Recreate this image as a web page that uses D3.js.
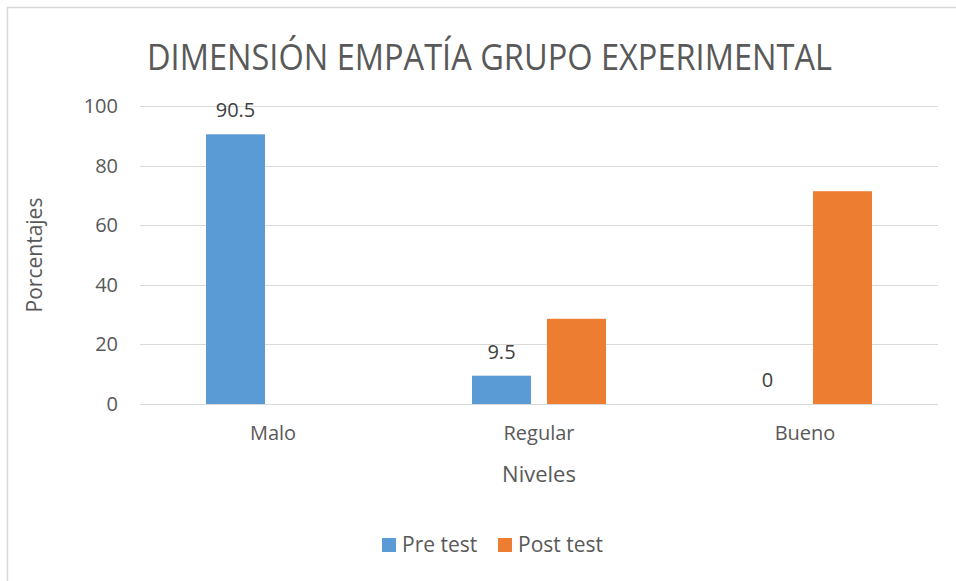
<!DOCTYPE html>
<html>
<head>
<meta charset="utf-8">
<script src="https://cdn.jsdelivr.net/npm/d3@7"></script>
<style>
  body { margin: 0; background: #fff; }
  text { font-family: "Open Sans", "Noto Sans", sans-serif; }
</style>
</head>
<body>
<svg id="chart" width="956" height="581"></svg>
<script>
const categories = ["Malo", "Regular", "Bueno"];
const series = ["Pre test", "Post test"];
const preTest = [90.5, 9.5, 0];
const postTest = [0, 28.6, 71.4];
const yTicks = [0, 20, 40, 60, 80, 100];
const colors = ["#5B9BD5", "#ED7D31"];

const svg = d3.select("#chart");
const margin = {top: 106, left: 140, bottom: 177, right: 18};
const width = +svg.attr("width");
const height = +svg.attr("height");

svg.append("rect")
    .attr("width", width).attr("height", height)
    .attr("fill", "#fff");

// chart frame (only top & left visible in the picture)
svg.append("path")
    .attr("d", `M7.5,${height} V7.5 H${width}`)
    .attr("fill", "none")
    .attr("stroke", "#d9d9d9")
    .attr("stroke-width", 1.5);

const y = d3.scaleLinear()
    .domain([0, 100])
    .range([height - margin.bottom, margin.top]);

const x0 = d3.scaleBand()
    .domain(categories)
    .range([margin.left, width - margin.right]);

const groupWidth = 134;
const x1 = d3.scaleBand()
    .domain(series)
    .range([0, groupWidth])
    .paddingInner(16 / 75);

const z = d3.scaleOrdinal().domain(series).range(colors);

// gridlines
svg.append("g")
    .selectAll("line")
    .data(yTicks)
    .join("line")
    .attr("x1", margin.left)
    .attr("x2", width - margin.right)
    .attr("y1", d => Math.round(y(d)) + 0.5)
    .attr("y2", d => Math.round(y(d)) + 0.5)
    .attr("stroke", "#d9d9d9")
    .attr("stroke-width", 1);

// y axis labels
const yAxis = svg.append("g")
    .attr("transform", `translate(${margin.left},0)`)
    .call(d3.axisLeft(y).tickValues(yTicks).tickSize(0).tickPadding(22));
yAxis.select(".domain").remove();
yAxis.selectAll("text")
    .attr("font-size", 20)
    .attr("fill", "#595959")
    .style("font-family", "'Open Sans', sans-serif");

// x axis labels
const xAxis = svg.append("g")
    .attr("transform", `translate(0,${height - margin.bottom})`)
    .call(d3.axisBottom(x0).tickSize(0).tickPadding(22));
xAxis.select(".domain").remove();
xAxis.selectAll("text")
    .attr("font-size", 20)
    .attr("fill", "#595959")
    .style("font-family", "'Open Sans', sans-serif");

const rows = categories.map((c, i) => ({cat: c, values: [preTest[i], postTest[i]]}));

const groups = svg.append("g")
    .selectAll("g")
    .data(rows)
    .join("g")
    .attr("transform", d => `translate(${x0(d.cat) + (x0.bandwidth() - groupWidth) / 2},0)`);

groups.selectAll("rect")
    .data(d => d.values.map((v, j) => ({key: series[j], value: v})))
    .join("rect")
    .attr("x", d => x1(d.key))
    .attr("y", d => y(d.value))
    .attr("width", x1.bandwidth())
    .attr("height", d => y(0) - y(d.value))
    .attr("fill", d => z(d.key));

// data labels on the pre test series
groups.append("text")
    .attr("x", x1(series[0]) + x1.bandwidth() / 2)
    .attr("y", d => y(d.values[0]) - 17)
    .attr("text-anchor", "middle")
    .attr("font-size", 20)
    .attr("fill", "#404040")
    .text(d => d.values[0]);

// title
svg.append("text")
    .attr("x", 489.5)
    .attr("y", 70)
    .attr("text-anchor", "middle")
    .attr("font-size", 37)
    .attr("fill", "#595959")
    .attr("textLength", 685)
    .attr("lengthAdjust", "spacingAndGlyphs")
    .text("DIMENSIÓN EMPATÍA GRUPO EXPERIMENTAL");

// axis titles
svg.append("text")
    .attr("transform", `translate(35,${(y(0) + y(100)) / 2}) rotate(-90)`)
    .attr("text-anchor", "middle")
    .attr("dy", "0.35em")
    .attr("font-size", 21)
    .attr("fill", "#595959")
    .text("Porcentajes");

svg.append("text")
    .attr("x", x0("Regular") + x0.bandwidth() / 2)
    .attr("y", 482)
    .attr("text-anchor", "middle")
    .attr("font-size", 22)
    .attr("fill", "#595959")
    .text("Niveles");

// legend
const legendX = [382, 498];
const legend = svg.append("g")
    .selectAll("g")
    .data(series)
    .join("g")
    .attr("transform", (d, i) => `translate(${legendX[i]},538)`);

legend.append("rect")
    .attr("width", 14)
    .attr("height", 14)
    .attr("fill", d => z(d));

legend.append("text")
    .attr("x", 20)
    .attr("y", 14)
    .attr("font-size", 21)
    .attr("fill", "#595959")
    .text(d => d);
</script>
</body>
</html>
